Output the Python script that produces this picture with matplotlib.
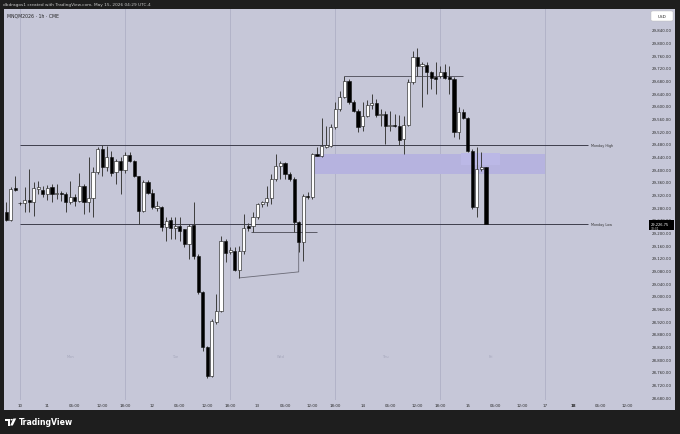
import pandas as pd
import matplotlib
matplotlib.use("Agg")
import matplotlib.pyplot as plt
import matplotlib.transforms as mtransforms
from matplotlib.patches import Rectangle, FancyBboxPatch, Polygon, Circle

header = "dbdragos1 created with TradingView.com, May 15, 2026 04:29 UTC-4"
symbol = "MNQM2026 · 1h · CME"

# 1h bars, Fri May 8 14:00 -> Fri May 15 04:00 (UTC-4)
opens = [29265, 29240, 29341,
         29294, 29294, 29303, 29297, 29338, 29335,
         29322, 29344, 29322, 29325, 29322, 29297, 29313, 29300, 29347, 29297, 29309, 29392, 29464, 29407, 29439, 29392, 29426,
         29398, 29445, 29426, 29379, 29268, 29360,
         29325, 29278, 29281, 29218, 29240, 29215, 29221, 29212, 29164, 29224, 29126, 29013, 28839, 28747, 28918, 28953, 29174,
         29139, 29142, 29082, 29142, 29222, 29221,
         29249, 29290, 29297, 29309, 29369, 29410, 29420, 29385, 29369, 29234, 29170, 29316, 29313, 29448, 29442, 29470, 29474,
         29534, 29590, 29628, 29679, 29613, 29584,
         29537, 29568, 29603, 29609, 29572, 29575, 29537, 29540, 29537, 29496, 29540, 29676, 29755, 29726, 29729, 29707, 29692,
         29695, 29707, 29692, 29685, 29518, 29581,
         29562, 29458, 29281, 29401, 29407]
highs = [29297, 29344, 29379,
         29297, 29344, 29401, 29360, 29363, 29347,
         29350, 29354, 29354, 29332, 29328, 29363, 29322, 29388, 29354, 29439, 29407, 29470, 29478, 29474, 29458, 29433, 29439,
         29455, 29455, 29429, 29380, 29366, 29366,
         29338, 29300, 29284, 29249, 29249, 29249, 29249, 29212, 29227, 29297, 29133, 29016, 28842, 28927, 29006, 29190, 29180,
         29155, 29155, 29158, 29259, 29229, 29265,
         29294, 29300, 29347, 29385, 29448, 29426, 29423, 29392, 29376, 29237, 29322, 29328, 29451, 29470, 29562, 29537, 29543,
         29613, 29648, 29695, 29685, 29619, 29590,
         29613, 29619, 29638, 29622, 29590, 29584, 29584, 29575, 29572, 29568, 29685, 29774, 29783, 29739, 29739, 29711, 29739,
         29726, 29733, 29726, 29692, 29597, 29590,
         29565, 29464, 29470, 29455, 29408]
lows = [29237, 29238, 29332,
        29288, 29265, 29265, 29253, 29322, 29313,
        29303, 29297, 29306, 29300, 29265, 29290, 29284, 29297, 29259, 29265, 29249, 29385, 29379, 29395, 29379, 29354, 29322,
        29388, 29423, 29376, 29227, 29265, 29322,
        29275, 29268, 29205, 29174, 29180, 29180, 29174, 29155, 29117, 29117, 29006, 28826, 28741, 28744, 28912, 28949, 29107,
        29133, 29079, 29057, 29133, 29205, 29202,
        29243, 29281, 29284, 29290, 29363, 29369, 29369, 29363, 29202, 29139, 29110, 29306, 29306, 29442, 29440, 29467, 29470,
        29527, 29584, 29625, 29606, 29581, 29518,
        29521, 29565, 29590, 29565, 29537, 29480, 29521, 29534, 29477, 29448, 29537, 29669, 29695, 29597, 29638, 29654, 29638,
        29688, 29685, 29638, 29502, 29496, 29560,
        29455, 29275, 29249, 29395, 29226]
closes = [29240, 29338, 29335,
          29292, 29303, 29297, 29341, 29344, 29322,
          29341, 29322, 29325, 29322, 29297, 29313, 29300, 29347, 29297, 29309, 29392, 29464, 29407, 29439, 29388, 29426, 29398,
          29445, 29426, 29379, 29268, 29360, 29325,
          29281, 29284, 29218, 29237, 29215, 29221, 29205, 29164, 29221, 29126, 29013, 28839, 28747, 28921, 28953, 29174, 29136,
          29145, 29082, 29142, 29215, 29216, 29249,
          29290, 29297, 29309, 29369, 29410, 29420, 29385, 29369, 29234, 29170, 29316, 29313, 29448, 29442, 29474, 29477, 29534,
          29590, 29628, 29679, 29613, 29584, 29534,
          29568, 29603, 29609, 29572, 29575, 29537, 29540, 29537, 29493, 29540, 29676, 29755, 29726, 29733, 29707, 29688, 29685,
          29707, 29688, 29685, 29518, 29581, 29562,
          29458, 29281, 29401, 29407, 29226.75]

monday_high = 29478
monday_low = 29227
countdown = "30:31"

price_ticks = list(range(28680, 29841, 40))
tick_times = ["2026-05-10 18:00", "2026-05-11 00:00", "2026-05-11 06:00", "2026-05-11 12:00", "2026-05-11 18:00",
              "2026-05-12 00:00", "2026-05-12 06:00", "2026-05-12 12:00", "2026-05-12 18:00",
              "2026-05-13 00:00", "2026-05-13 06:00", "2026-05-13 12:00", "2026-05-13 18:00",
              "2026-05-14 00:00", "2026-05-14 06:00", "2026-05-14 12:00", "2026-05-14 18:00",
              "2026-05-15 00:00", "2026-05-15 06:00", "2026-05-15 12:00",
              "2026-05-17 18:00", "2026-05-18 00:00", "2026-05-18 06:00", "2026-05-18 12:00"]
tick_labels = ["10", "11", "06:00", "12:00", "18:00", "12", "06:00", "12:00", "18:00",
               "13", "06:00", "12:00", "18:00", "14", "06:00", "12:00", "18:00",
               "15", "06:00", "12:00", "17", "18", "06:00", "12:00"]
day_names = ["Mon", "Tue", "Wed", "Thu", "Fri"]
day_name_times = ["2026-05-11 05:00", "2026-05-12 05:00", "2026-05-13 05:00", "2026-05-14 05:00", "2026-05-15 05:00"]
session_starts = ["2026-05-10 18:00", "2026-05-11 18:00", "2026-05-12 18:00", "2026-05-13 18:00",
                  "2026-05-14 18:00", "2026-05-17 18:00"]


def session_hours(start, end):
    # CME hourly bars: no 17:00 bar, closed Fri 17:00 -> Sun 18:00
    keep = []
    for t in pd.date_range(start, end, freq="h"):
        if t.hour == 17 or t.weekday() == 5:
            continue
        if t.weekday() == 4 and t.hour > 16:
            continue
        if t.weekday() == 6 and t.hour < 18:
            continue
        keep.append(t)
    return pd.DatetimeIndex(keep)


times = session_hours("2026-05-08 14:00", "2026-05-18 23:00")


def at(s):
    return times.get_loc(pd.Timestamp(s))


W, H = 680, 435
BG = "#c6c7d8"
DARK = "#1e1e1e"


def fx(x):
    return x / W


def fy(y):
    return 1 - y / H


plt.rcParams['font.family'] = ['DejaVu Sans']
fig = plt.figure(figsize=(W / 100, H / 100), dpi=100, facecolor=DARK)
fig.add_artist(Rectangle((fx(3.5), fy(411)), (675 - 3.5) / W, (411 - 10) / H,
                         transform=fig.transFigure, facecolor=BG, edgecolor="none", zorder=0))

ax = fig.add_axes([fx(4), fy(401), (645 - 4) / W, (401 - 10) / H])
ax.set_facecolor(BG)
ax.set_xlim(-0.5, 139.8)
ax.set_ylim(28671.5, 29906)
for s in ax.spines.values():
    s.set_visible(False)

# session breaks
for s in session_starts:
    ax.axvline(at(s), color="#b2b3c8", lw=0.7, zorder=1)

# fvg zone
zl = at("2026-05-13 13:00") - 0.4
zr = at("2026-05-17 18:00")
ax.add_patch(Rectangle((zl, 29385), zr - zl, 29448 - 29385, facecolor="#b6b3df", edgecolor="none", zorder=2))
sl = at("2026-05-14 22:00") + 0.6
sr = at("2026-05-15 07:00")
ax.add_patch(Rectangle((sl, 29412), sr - sl, 29450 - 29412, facecolor="#bbb8e6", edgecolor="none", zorder=2))

# drawings
line_end = 127.3
ax.hlines([monday_high, monday_low], at("2026-05-10 18:00"), line_end, color="#3e3e4c", lw=0.7, zorder=3)
ax.text(line_end + 0.6, monday_high, "Monday High", fontsize=2.4, color="#333", va="center")
ax.text(line_end + 0.6, monday_low, "Monday Low", fontsize=2.4, color="#333", va="center")

w20 = at("2026-05-13 20:00")
ax.hlines(highs[w20], w20, at("2026-05-14 23:00"), color="#5a5a66", lw=0.7, zorder=3)
t23 = at("2026-05-12 23:00")
ax.hlines(lows[t23], t23 - 0.4, at("2026-05-13 13:00"), color="#5a5a66", lw=0.7, zorder=3)
t20 = at("2026-05-12 20:00")
w09 = at("2026-05-13 09:00")
ax.plot([t20, w09, w09], [lows[t20], 29076, lows[t23]], color="#6a6a76", lw=0.6, zorder=3)

# candles
xs = list(range(len(opens)))
up = [c >= o for o, c in zip(opens, closes)]
ax.vlines(xs, lows, highs, color="#3d3d3d", lw=0.7, zorder=4)
bottoms = [min(o, c) for o, c in zip(opens, closes)]
heights = [max(abs(c - o), 2) for o, c in zip(opens, closes)]
ax.bar(xs, heights, bottom=bottoms, width=0.7,
       color=["#ffffff" if u else "#000000" for u in up],
       edgecolor="#111111", linewidth=0.4, zorder=5)

# day names
trans = mtransforms.blended_transform_factory(ax.transData, ax.transAxes)
for name, t in zip(day_names, day_name_times):
    ax.text(at(t), 0.112, name, transform=trans, fontsize=2.6, color="#a4a6ba", ha="center", va="center")

# axes ticks
ax.yaxis.tick_right()
ax.set_yticks(price_ticks, ["{:,.2f}".format(p) for p in price_ticks])
ax.set_xticks([at(t) for t in tick_times], tick_labels)
ax.tick_params(axis="y", length=0, pad=4.5, labelsize=2.8, labelcolor="#2a2a2a")
ax.tick_params(axis="x", length=0, pad=2.5, labelsize=2.9, labelcolor="#2a2a2a")
for lab in ax.get_xticklabels():
    if lab.get_text() == "18":
        lab.set_fontweight("bold")

# last price tag
ytrans = mtransforms.blended_transform_factory(ax.transAxes, ax.transData)
ax.add_patch(Rectangle((1.0065, closes[-1] - 18), 0.039, 30, transform=ytrans,
                       facecolor="#000000", edgecolor="none", clip_on=False, zorder=6))
ax.text(1.0085, closes[-1] + 2, "{:,.2f}".format(closes[-1]), transform=ytrans, fontsize=2.6,
        color="white", va="center", zorder=7)
ax.text(1.0085, closes[-1] - 11, countdown, transform=ytrans, fontsize=2.1,
        color="#dddddd", va="center", zorder=7)

# header, symbol, currency
fig.text(fx(3), fy(5), header, fontsize=3.1, color="#c8c8c8", va="center")
fig.text(fx(7), fy(16), symbol, fontsize=3.3, color="#222222", va="center")
fig.add_artist(FancyBboxPatch((fx(651), fy(22)), 22 / W, 10 / H, boxstyle="round,pad=0,rounding_size=0.003",
                              transform=fig.transFigure, facecolor="white", edgecolor="#bbbbbb", lw=0.3))
fig.text(fx(662), fy(17), "USD", fontsize=3.0, color="#222222", ha="center", va="center")

# TradingView logo
fig.add_artist(Polygon([(fx(5), fy(419.5)), (fx(10), fy(419.5)), (fx(10), fy(426.5)), (fx(7.8), fy(426.5)),
                        (fx(7.8), fy(421.7)), (fx(5), fy(421.7))], closed=True,
                       transform=fig.transFigure, facecolor="white", edgecolor="none"))
fig.add_artist(Circle((fx(11.6), fy(420.7)), 1.2 / W, transform=fig.transFigure, facecolor="white", edgecolor="none"))
fig.add_artist(Polygon([(fx(13.4), fy(419.5)), (fx(16.2), fy(419.5)), (fx(12.8), fy(426.5)), (fx(10.2), fy(426.5))],
                       closed=True, transform=fig.transFigure, facecolor="white", edgecolor="none"))
fig.text(fx(19), fy(423), "TradingView", fontsize=5.6, color="white", fontweight="bold", va="center")

fig.savefig("out.png", dpi=100, facecolor=DARK)
